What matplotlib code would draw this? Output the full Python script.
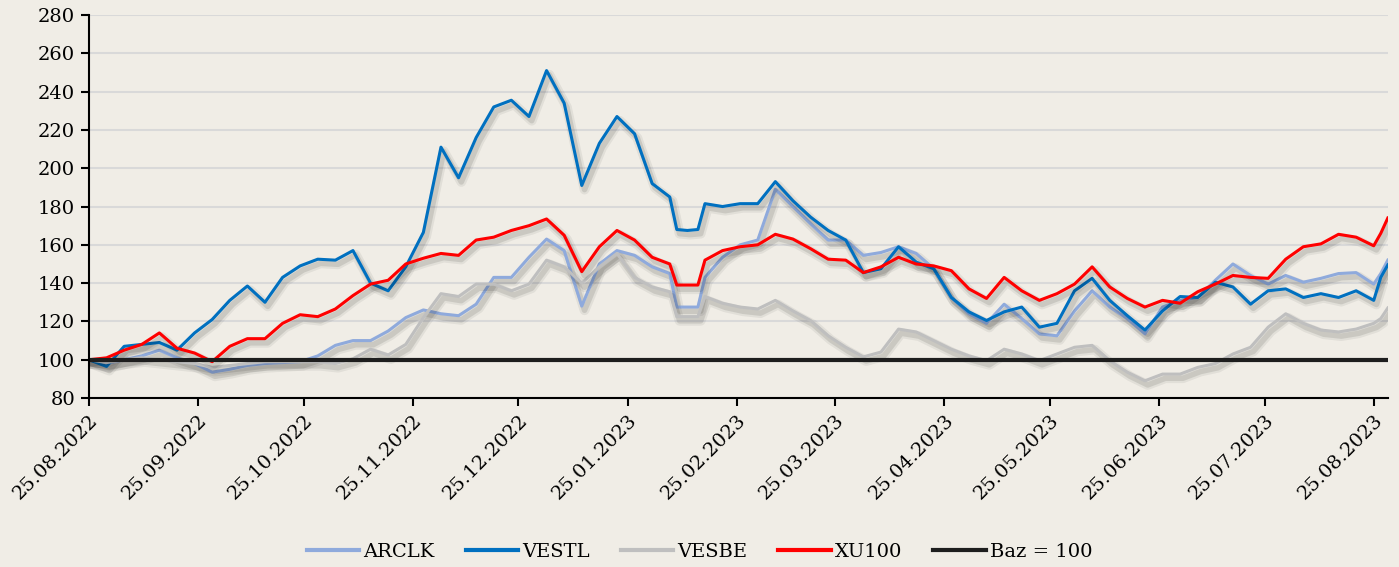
import matplotlib
matplotlib.use('Agg')
import matplotlib.pyplot as plt
import matplotlib.dates as mdates
import matplotlib.patheffects as pe
from matplotlib.lines import Line2D
import pandas as pd

plt.rcParams['font.family'] = ['DejaVu Serif']

# gün farkı (25.08.2022'den itibaren)
days = [0, 5, 10, 15, 20, 25, 30, 35, 40, 45, 50, 55, 60, 65, 70, 75, 80, 85,
        90, 95, 100, 105, 110, 115, 120, 125, 130, 135, 140, 145, 150, 155,
        160, 165, 167, 170, 173, 175, 180, 185, 190, 195, 200, 205, 210, 215,
        220, 225, 230, 235, 240, 245, 250, 255, 260, 265, 270, 275, 280, 285,
        290, 295, 300, 305, 310, 315, 320, 325, 330, 335, 340, 345, 350, 355,
        360, 365, 367, 369]

vestl = [100, 96.5, 107, 108, 109, 105, 114, 121, 131, 138.5, 130, 143, 149,
         152.5, 152, 157, 140, 136, 148.5, 166.5, 211, 195, 216, 232, 235.5,
         227, 251, 234, 191, 213, 227, 218, 192, 185, 168, 167.5, 168, 181.5,
         180, 181.5, 181.5, 193, 183, 174.5, 167.5, 162.5, 145.5, 147.5, 159,
         151, 147.5, 132.5, 125, 120.5, 125, 127.5, 117, 119, 136, 142.5, 131,
         123, 115.5, 125.5, 133, 132.5, 140.5, 138, 129, 136, 137, 132.5, 134.5,
         132.5, 136, 131, 143, 149.5]

xu100 = [100, 101, 105, 108, 114, 106, 103.5, 99, 107, 111, 111, 119, 123.5,
         122.5, 126.5, 133.5, 139.5, 141.5, 150, 153, 155.5, 154.5, 162.5, 164,
         167.5, 170, 173.5, 165, 146, 159, 167.5, 162.5, 153.5, 150, 139, 139,
         139, 152, 157, 159, 160, 165.5, 163, 158, 152.5, 152, 145.5, 148.5,
         153.5, 150, 149, 146.5, 137, 132, 143, 136, 131, 134.5, 139.5, 148.5,
         138, 132, 127.5, 131, 129.5, 135.5, 139.5, 144, 143, 142.5, 152.5, 159,
         160.5, 165.5, 164, 159.5, 166, 174]

arclk = [100, 98, 100, 102, 105, 101, 98, 93.5, 95, 97, 98, 98.5, 99, 102,
         107.5, 110, 110, 115, 122, 126, 124, 123, 129, 143, 143, 153.5, 163,
         157, 128, 150, 157, 154.5, 148.5, 145, 127.5, 127.5, 127.5, 143, 153.5,
         160, 162.5, 189, 180, 171, 162.5, 162.5, 154.5, 156, 159, 155.5, 147.5,
         132.5, 124, 119, 129, 121.5, 113.5, 112.5, 125.5, 136, 127.5, 121.5,
         113.5, 127.5, 131, 132.5, 141.5, 150, 144, 139.5, 144, 140.5, 142.5,
         145, 145.5, 139.5, 145, 152]

vesbe = [100, 98.5, 100, 101, 100, 99, 98, 96, 97, 98, 99, 99, 99, 99, 98,
         100.5, 105.5, 102.5, 108, 122, 134.5, 133, 139.5, 139.5, 136, 139.5,
         152, 148.5, 140, 148.5, 155.5, 143, 138, 135.5, 122.5, 122.5, 122.5,
         133, 129.5, 127.5, 126.5, 131, 125.5, 120.5, 112.5, 106.5, 101.5, 104,
         116, 114.5, 110, 105.5, 102, 99.5, 105.5, 103, 99.5, 103, 106.5, 107.5,
         99.5, 93.5, 89, 92.5, 92.5, 96, 98, 103, 106.5, 117, 124, 119, 115.5,
         114.5, 116, 119, 121.5, 127]

dates = pd.Timestamp('2022-08-25') + pd.to_timedelta(days, unit='D')
base = [100] * len(days)

bg = '#f0ede6'
fig = plt.figure(figsize=(13.99, 5.67), dpi=100, facecolor=bg)
ax = fig.add_axes([0.0636, 0.298, 0.9284, 0.6755], facecolor=bg)


def shadow(lw):
    return [pe.SimpleLineShadow(offset=(2, -3), shadow_color='k', alpha=0.06, linewidth=lw * 3.2),
            pe.SimpleLineShadow(offset=(2, -3), shadow_color='k', alpha=0.10, linewidth=lw * 1.8),
            pe.Normal()]


series = [('ARCLK', arclk, '#8faadc'),
          ('VESTL', vestl, '#0070c0'),
          ('VESBE', vesbe, '#bfbfbf'),
          ('XU100', xu100, '#ff0000')]
handles = []
for name, vals, col in series:
    ax.plot(dates, vals, color=col, lw=2.2, path_effects=shadow(2.2))
    handles.append(Line2D([], [], color=col, lw=3.0, label=name))
ax.plot(dates, base, color='#1e1e1e', lw=3.0)
handles.append(Line2D([], [], color='#1e1e1e', lw=3.0, label='Baz = 100'))

ax.set_ylim(80, 280)
ax.set_yticks(range(80, 281, 20))
ax.set_xlim(dates[0], dates[-1])
ax.xaxis.set_major_locator(mdates.MonthLocator(bymonthday=25))
ax.xaxis.set_major_formatter(mdates.DateFormatter('%d.%m.%Y'))
ax.grid(axis='y', color='#d9d9d9', lw=1.5)
ax.set_axisbelow(True)

for s in ['top', 'right']:
    ax.spines[s].set_visible(False)
for s in ['left', 'bottom']:
    ax.spines[s].set_linewidth(1.5)
    ax.spines[s].set_color('black')
ax.tick_params(axis='both', length=6, width=1.5, labelsize=14, colors='black')
ax.tick_params(axis='y', pad=4)
plt.setp(ax.get_xticklabels(), rotation=45, ha='right', rotation_mode='anchor')

fig.legend(handles=handles, loc='center', bbox_to_anchor=(0.5, 0.026), ncol=5,
           frameon=False, fontsize=14, handlelength=2.7, handletextpad=0.2,
           columnspacing=1.6)

fig.savefig('out.png', dpi=100, facecolor=bg)
